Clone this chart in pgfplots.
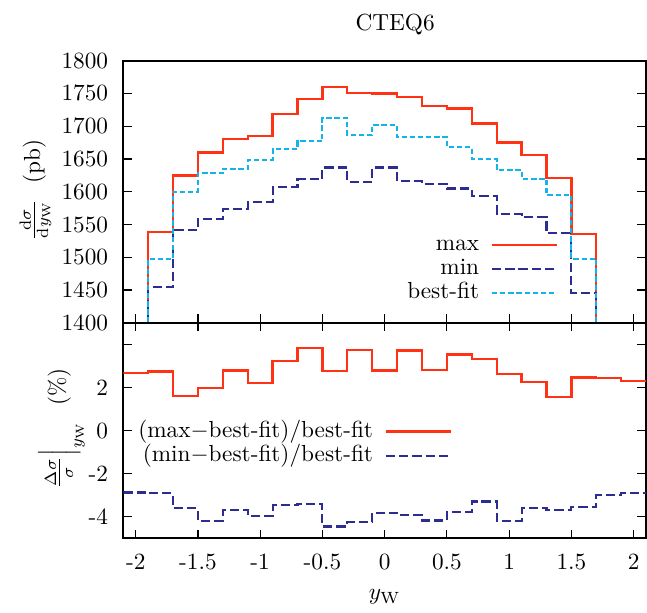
\documentclass[border=0pt]{standalone}
\usepackage{pgfplots}
\pgfplotsset{compat=1.18}
\definecolor{cmax}{RGB}{255,50,20}
\definecolor{cmin}{RGB}{45,45,145}
\definecolor{cbest}{RGB}{20,180,235}
\begin{document}
\begin{tikzpicture}
\useasboundingbox (-53.0pt,-31.7pt) rectangle (225.2pt,231.5pt);
\pgfplotsset{common/.style={
  scale only axis, width=224.8pt,
  xmin=-2.1, xmax=2.1,
  xtick={-2,-1.5,-1,-0.5,0,0.5,1,1.5,2},
  axis line style={line width=0.8pt},
  major tick length=3.7pt,
  tick style={line width=0.5pt, black},
  yticklabel style={xshift=-3pt},
  xticklabel style={yshift=-3pt},
  legend image code/.code={\draw[##1] (0pt,0pt) -- (28pt,0pt);},
  legend plot pos=right,
  legend cell align=right,
  legend style={draw=none, fill=none, inner sep=0pt, outer sep=0pt,
    row sep=0pt, column sep=5pt,
    nodes={inner sep=0pt, text height=7.6pt, text depth=2.8pt}},
}}
\begin{axis}[common, at={(0pt,92.7pt)}, anchor=south west, height=112.7pt,
  ymin=1400, ymax=1800, ytick={1400,1450,1500,1550,1600,1650,1700,1750,1800},
  scaled y ticks=false,
  yticklabel style={/pgf/number format/1000 sep={}},
  xticklabels={}, xtick pos=left,
  title={CTEQ6}, title style={at={(axis description cs:0.52,1.086)}, anchor=center},
  ylabel={$\frac{\mathrm{d}\sigma}{\mathrm{d}y_{\mathrm{W}}}$\ \ (pb)},
  ylabel style={at={(axis description cs:-0.168,0.506)}, anchor=center},
  legend style={at={(axis description cs:0.832,0.205)}, anchor=east},
]
\addplot[const plot, color=cmax, line width=1pt] coordinates {
(-1.9,1400) (-1.9,1539) (-1.7,1625) (-1.5,1660) (-1.3,1681) (-1.1,1685) (-0.9,1719) (-0.7,1742) (-0.5,1760) (-0.3,1751) (-0.1,1750) (0.1,1745) (0.3,1731) (0.5,1727) (0.7,1704) (0.9,1675) (1.1,1656) (1.3,1621) (1.5,1536) (1.7,1400)};
\addlegendentry{max}
\addplot[const plot, color=cmin, line width=0.9pt, dash pattern=on 4pt off 1.7pt] coordinates {
(-1.9,1400) (-1.9,1454) (-1.7,1542) (-1.5,1559) (-1.3,1574) (-1.1,1584) (-0.9,1607) (-0.7,1619) (-0.5,1637) (-0.3,1615) (-0.1,1637) (0.1,1616) (0.3,1612) (0.5,1605) (0.7,1594) (0.9,1566) (1.1,1561) (1.3,1537) (1.5,1445) (1.7,1400)};
\addlegendentry{min}
\addplot[const plot, color=cbest, line width=0.9pt, dash pattern=on 2.3pt off 1.2pt] coordinates {
(-1.9,1400) (-1.9,1497) (-1.7,1600) (-1.5,1628) (-1.3,1635) (-1.1,1649) (-0.9,1665) (-0.7,1677) (-0.5,1712) (-0.3,1687) (-0.1,1702) (0.1,1683) (0.3,1683) (0.5,1668) (0.7,1650) (0.9,1633) (1.1,1620) (1.3,1595) (1.5,1498) (1.7,1400)};
\addlegendentry{best-fit}
\end{axis}
\begin{axis}[common, at={(0pt,0pt)}, anchor=south west, height=92.7pt,
  ymin=-5, ymax=5, ytick={-4,-2,0,2,4}, yticklabels={-4,-2,0,2,{}},
  xticklabels={-2,-1.5,-1,-0.5,0,0.5,1,1.5,2},
  xlabel={$y_{\mathrm{W}}$},
  xlabel style={at={(axis description cs:0.5,-0.272)}, anchor=center},
  ylabel={$\frac{\Delta\sigma}{\sigma}\Big|_{y_{\mathrm{W}}}$\ \ (\%)},
  ylabel style={at={(axis description cs:-0.118,0.509)}, anchor=center},
  legend style={at={(axis description cs:0.629,0.44)}, anchor=east},
]
\addplot[const plot, color=cmax, line width=1pt] coordinates {
(-2.1,2.68) (-1.9,2.74) (-1.7,1.60) (-1.5,1.97) (-1.3,2.79) (-1.1,2.20) (-0.9,3.24) (-0.7,3.84) (-0.5,2.76) (-0.3,3.75) (-0.1,2.79) (0.1,3.72) (0.3,2.82) (0.5,3.53) (0.7,3.33) (0.9,2.63) (1.1,2.24) (1.3,1.56) (1.5,2.46) (1.7,2.43) (1.9,2.29) (2.1,2.29)};
\addlegendentry{(max$-$best-fit)/best-fit}
\addplot[const plot, color=cmin, line width=0.9pt, dash pattern=on 4pt off 1.7pt] coordinates {
(-2.1,-2.87) (-1.9,-2.91) (-1.7,-3.61) (-1.5,-4.19) (-1.3,-3.69) (-1.1,-3.94) (-0.9,-3.47) (-0.7,-3.41) (-0.5,-4.45) (-0.3,-4.25) (-0.1,-3.81) (0.1,-3.91) (0.3,-4.17) (0.5,-3.77) (0.7,-3.29) (0.9,-4.19) (1.1,-3.61) (1.3,-3.67) (1.5,-3.55) (1.7,-2.99) (1.9,-2.88) (2.1,-2.88)};
\addlegendentry{(min$-$best-fit)/best-fit}
\end{axis}
\end{tikzpicture}
\end{document}
